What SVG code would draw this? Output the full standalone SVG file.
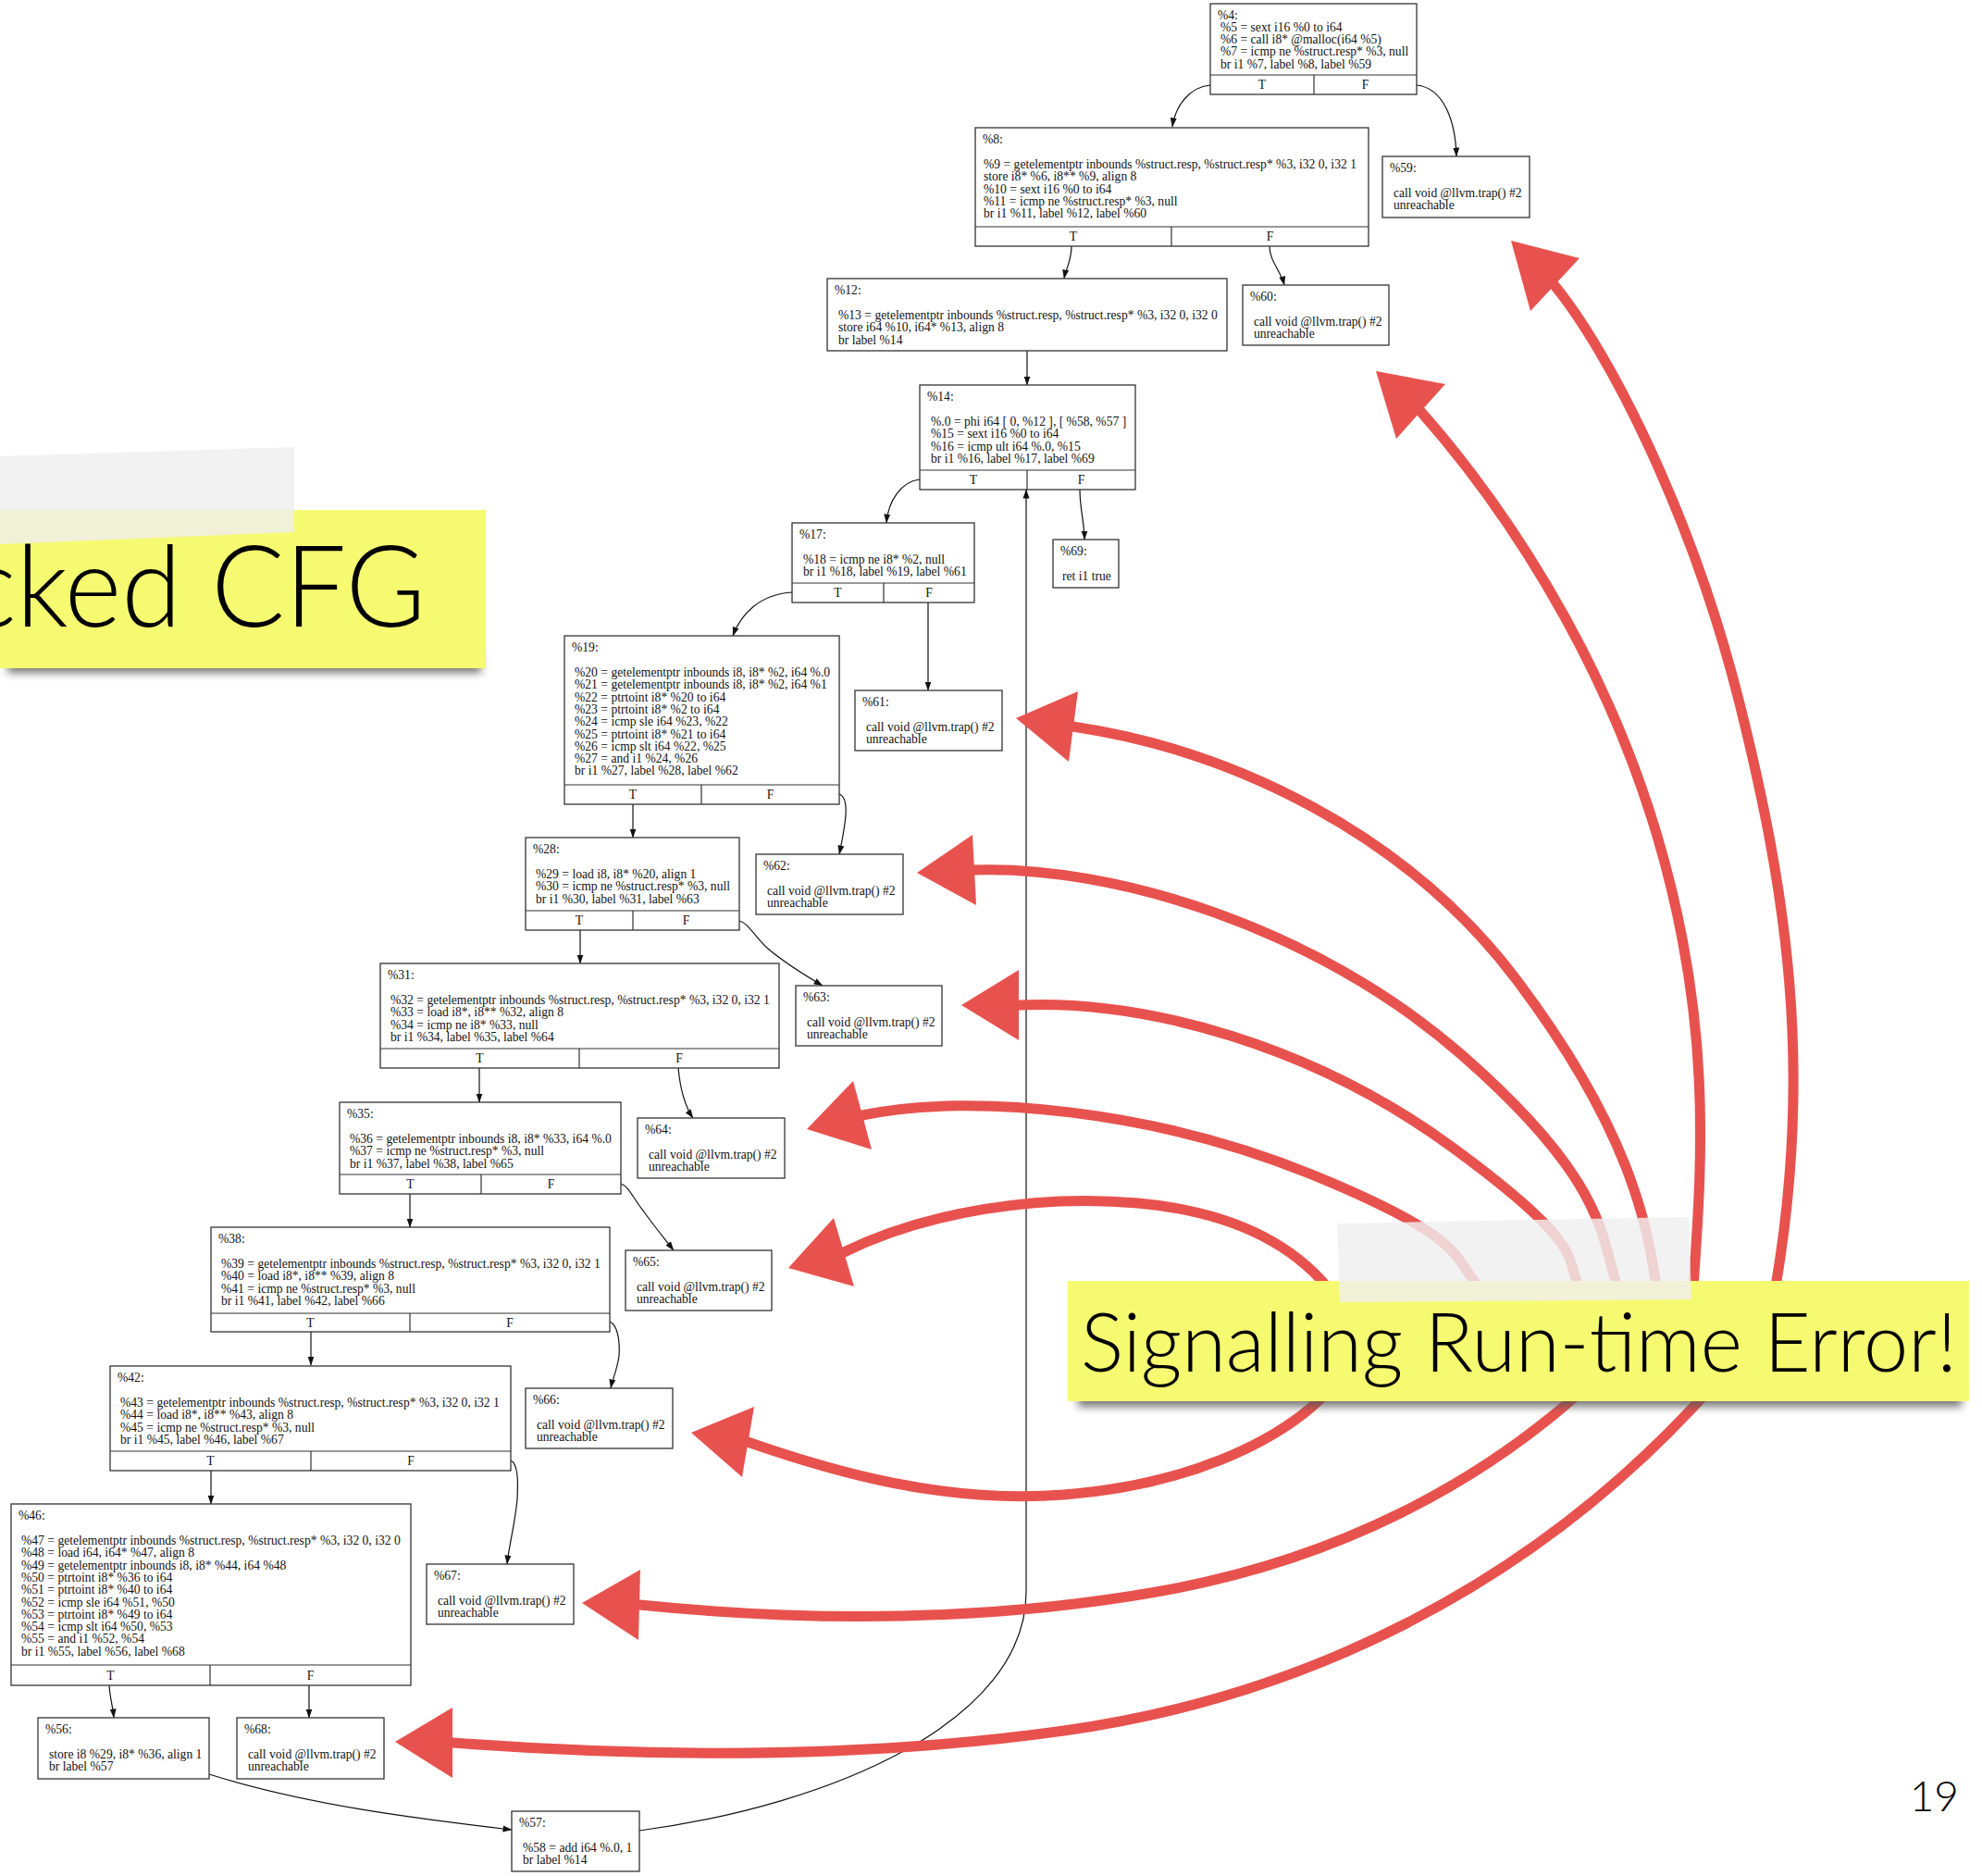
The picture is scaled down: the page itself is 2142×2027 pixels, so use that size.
<svg xmlns="http://www.w3.org/2000/svg" width="2142" height="2027" viewBox="0 0 2142 2027">
<style>
.b{fill:#fff;stroke:#333;stroke-width:1.3}
.l{stroke:#333;stroke-width:1.2;fill:none}
.t{font-family:"Liberation Serif","Times New Roman",serif;font-size:13.6px;fill:#111}
.c{text-anchor:middle}
.e{stroke:#111;stroke-width:1.2;fill:none;marker-end:url(#ah)}
.ra{stroke:#e8524e;stroke-width:11;fill:none;stroke-linecap:round;stroke-linejoin:round}
.rh{fill:#e8524e}
.big{font-family:"Lato","Open Sans",sans-serif;font-weight:300;fill:#000}
.yel{fill:#f6fa70}
.tape{fill:#efefef;fill-opacity:0.82}
</style>
<defs>
<marker id="ah" markerWidth="10" markerHeight="8" refX="9.5" refY="4" orient="auto" markerUnits="userSpaceOnUse">
<path d="M0,0.5 L10,4 L0,7.5 z" fill="#111"/>
</marker>
<filter id="sh" x="-10%" y="-50%" width="120%" height="200%"><feGaussianBlur stdDeviation="5"/></filter>
</defs>
<rect width="2142" height="2027" fill="#fff"/>

<g id="edges">
<path class="e" d="M1308,92 C1285,94 1270,115 1267,137"/>
<path class="e" d="M1531,92 C1560,95 1573,130 1574,169"/>
<path class="e" d="M1158,266 C1158,282 1152,290 1150,301"/>
<path class="e" d="M1372,266 C1372,282 1384,292 1388,308"/>
<path class="e" d="M1110,379 L1110,416"/>
<path class="e" d="M994,518 C975,520 960,540 958,565"/>
<path class="e" d="M1167,529 C1167,550 1172,565 1172,583"/>
<path class="e" d="M856,640 C820,642 800,665 792,687"/>
<path class="e" d="M1003,651 L1003,746"/>
<path class="e" d="M684,869 L684,905"/>
<path class="e" d="M907,858 C918,862 915,885 907,923"/>
<path class="e" d="M627,1005 L627,1041"/>
<path class="e" d="M799,995 C810,998 815,1012 830,1025 C850,1042 872,1055 889,1065"/>
<path class="e" d="M518,1154 L518,1191"/>
<path class="e" d="M733,1154 C735,1175 740,1195 749,1208"/>
<path class="e" d="M443,1290 L443,1326"/>
<path class="e" d="M671,1279 C680,1282 685,1296 695,1308 C707,1325 718,1338 728,1351"/>
<path class="e" d="M336,1439 L336,1475"/>
<path class="e" d="M659,1428 C668,1432 670,1450 669,1465 C667,1480 662,1490 660,1500"/>
<path class="e" d="M228,1589 L228,1625"/>
<path class="e" d="M552,1578 C560,1582 560,1600 559,1620 C556,1650 550,1670 548,1690"/>
<path class="e" d="M118,1821 C119,1835 122,1845 123,1856"/>
<path class="e" d="M334,1821 L334,1856"/>
<path class="e" d="M226,1917 C330,1950 450,1965 553,1977"/>
<path class="e" d="M691,1978 C900,1950 1109,1860 1109,1720 L1109,529"/>
</g>

<g id="n4">
<rect class="b" x="1308" y="4" width="223" height="98"/>
<path class="l" d="M1308,81 H1531 M1420,81 V102"/>
<text class="t"><tspan x="1316" y="20.5">%4:</tspan><tspan x="1319" y="33.8">%5 = sext i16 %0 to i64</tspan><tspan x="1319" y="47.1">%6 = call i8* @malloc(i64 %5)</tspan><tspan x="1319" y="60.4">%7 = icmp ne %struct.resp* %3, null</tspan><tspan x="1319" y="73.7">br i1 %7, label %8, label %59</tspan></text>
<text class="t c"><tspan x="1364" y="96">T</tspan><tspan x="1475.5" y="96">F</tspan></text>
</g>

<g id="n8">
<rect class="b" x="1054" y="138" width="425" height="128"/>
<path class="l" d="M1054,245 H1479 M1266,245 V266"/>
<text class="t"><tspan x="1062" y="154.5">%8:</tspan><tspan x="1063" y="182">%9 = getelementptr inbounds %struct.resp, %struct.resp* %3, i32 0, i32 1</tspan><tspan x="1063" y="195.3">store i8* %6, i8** %9, align 8</tspan><tspan x="1063" y="208.6">%10 = sext i16 %0 to i64</tspan><tspan x="1063" y="221.9">%11 = icmp ne %struct.resp* %3, null</tspan><tspan x="1063" y="235.2">br i1 %11, label %12, label %60</tspan></text>
<text class="t c"><tspan x="1160" y="260">T</tspan><tspan x="1372.5" y="260">F</tspan></text>
</g>

<g id="n59">
<rect class="b" x="1494" y="169" width="159" height="66"/>
<text class="t"><tspan x="1502" y="185.5">%59:</tspan><tspan x="1506" y="213">call void @llvm.trap() #2</tspan><tspan x="1506" y="226.3">unreachable</tspan></text>
</g>

<g id="n12">
<rect class="b" x="894" y="301" width="432" height="78"/>
<text class="t"><tspan x="902" y="317.5">%12:</tspan><tspan x="906" y="345">%13 = getelementptr inbounds %struct.resp, %struct.resp* %3, i32 0, i32 0</tspan><tspan x="906" y="358.3">store i64 %10, i64* %13, align 8</tspan><tspan x="906" y="371.6">br label %14</tspan></text>
</g>

<g id="n60">
<rect class="b" x="1343" y="308" width="158" height="65"/>
<text class="t"><tspan x="1351" y="324.5">%60:</tspan><tspan x="1355" y="352">call void @llvm.trap() #2</tspan><tspan x="1355" y="365.3">unreachable</tspan></text>
</g>

<g id="n14">
<rect class="b" x="994" y="416" width="233" height="113"/>
<path class="l" d="M994,508 H1227 M1110,508 V529"/>
<text class="t"><tspan x="1002" y="432.5">%14:</tspan><tspan x="1006" y="460">%.0 = phi i64 [ 0, %12 ], [ %58, %57 ]</tspan><tspan x="1006" y="473.3">%15 = sext i16 %0 to i64</tspan><tspan x="1006" y="486.6">%16 = icmp ult i64 %.0, %15</tspan><tspan x="1006" y="499.9">br i1 %16, label %17, label %69</tspan></text>
<text class="t c"><tspan x="1052" y="523">T</tspan><tspan x="1168.5" y="523">F</tspan></text>
</g>

<g id="n17">
<rect class="b" x="856" y="565" width="197" height="86"/>
<path class="l" d="M856,630 H1053 M955,630 V651"/>
<text class="t"><tspan x="864" y="581.5">%17:</tspan><tspan x="868" y="609">%18 = icmp ne i8* %2, null</tspan><tspan x="868" y="622.3">br i1 %18, label %19, label %61</tspan></text>
<text class="t c"><tspan x="905.5" y="645">T</tspan><tspan x="1004" y="645">F</tspan></text>
</g>

<g id="n69">
<rect class="b" x="1138" y="583" width="71" height="52"/>
<text class="t"><tspan x="1146" y="599.5">%69:</tspan><tspan x="1148" y="627">ret i1 true</tspan></text>
</g>

<g id="n19">
<rect class="b" x="610" y="687" width="297" height="182"/>
<path class="l" d="M610,848 H907 M758,848 V869"/>
<text class="t"><tspan x="618" y="703.5">%19:</tspan><tspan x="621" y="731">%20 = getelementptr inbounds i8, i8* %2, i64 %.0</tspan><tspan x="621" y="744.3">%21 = getelementptr inbounds i8, i8* %2, i64 %1</tspan><tspan x="621" y="757.6">%22 = ptrtoint i8* %20 to i64</tspan><tspan x="621" y="770.9">%23 = ptrtoint i8* %2 to i64</tspan><tspan x="621" y="784.2">%24 = icmp sle i64 %23, %22</tspan><tspan x="621" y="797.5">%25 = ptrtoint i8* %21 to i64</tspan><tspan x="621" y="810.8">%26 = icmp slt i64 %22, %25</tspan><tspan x="621" y="824.1">%27 = and i1 %24, %26</tspan><tspan x="621" y="837.4">br i1 %27, label %28, label %62</tspan></text>
<text class="t c"><tspan x="684" y="863">T</tspan><tspan x="832.5" y="863">F</tspan></text>
</g>

<g id="n61">
<rect class="b" x="924" y="746" width="159" height="65"/>
<text class="t"><tspan x="932" y="762.5">%61:</tspan><tspan x="936" y="790">call void @llvm.trap() #2</tspan><tspan x="936" y="803.3">unreachable</tspan></text>
</g>

<g id="n28">
<rect class="b" x="568" y="905" width="231" height="100"/>
<path class="l" d="M568,984 H799 M684,984 V1005"/>
<text class="t"><tspan x="576" y="921.5">%28:</tspan><tspan x="579" y="949">%29 = load i8, i8* %20, align 1</tspan><tspan x="579" y="962.3">%30 = icmp ne %struct.resp* %3, null</tspan><tspan x="579" y="975.6">br i1 %30, label %31, label %63</tspan></text>
<text class="t c"><tspan x="626" y="999">T</tspan><tspan x="741.5" y="999">F</tspan></text>
</g>

<g id="n62">
<rect class="b" x="817" y="923" width="159" height="65"/>
<text class="t"><tspan x="825" y="939.5">%62:</tspan><tspan x="829" y="967">call void @llvm.trap() #2</tspan><tspan x="829" y="980.3">unreachable</tspan></text>
</g>

<g id="n63">
<rect class="b" x="860" y="1065" width="158" height="65"/>
<text class="t"><tspan x="868" y="1081.5">%63:</tspan><tspan x="872" y="1109">call void @llvm.trap() #2</tspan><tspan x="872" y="1122.3">unreachable</tspan></text>
</g>

<g id="n31">
<rect class="b" x="411" y="1041" width="431" height="113"/>
<path class="l" d="M411,1133 H842 M626,1133 V1154"/>
<text class="t"><tspan x="419" y="1057.5">%31:</tspan><tspan x="422" y="1085">%32 = getelementptr inbounds %struct.resp, %struct.resp* %3, i32 0, i32 1</tspan><tspan x="422" y="1098.3">%33 = load i8*, i8** %32, align 8</tspan><tspan x="422" y="1111.6">%34 = icmp ne i8* %33, null</tspan><tspan x="422" y="1124.9">br i1 %34, label %35, label %64</tspan></text>
<text class="t c"><tspan x="518.5" y="1148">T</tspan><tspan x="734" y="1148">F</tspan></text>
</g>

<g id="n64">
<rect class="b" x="689" y="1208" width="159" height="65"/>
<text class="t"><tspan x="697" y="1224.5">%64:</tspan><tspan x="701" y="1252">call void @llvm.trap() #2</tspan><tspan x="701" y="1265.3">unreachable</tspan></text>
</g>

<g id="n35">
<rect class="b" x="367" y="1191" width="304" height="99"/>
<path class="l" d="M367,1269 H671 M520,1269 V1290"/>
<text class="t"><tspan x="375" y="1207.5">%35:</tspan><tspan x="378" y="1235">%36 = getelementptr inbounds i8, i8* %33, i64 %.0</tspan><tspan x="378" y="1248.3">%37 = icmp ne %struct.resp* %3, null</tspan><tspan x="378" y="1261.6">br i1 %37, label %38, label %65</tspan></text>
<text class="t c"><tspan x="443.5" y="1284">T</tspan><tspan x="595.5" y="1284">F</tspan></text>
</g>

<g id="n65">
<rect class="b" x="676" y="1351" width="158" height="65"/>
<text class="t"><tspan x="684" y="1367.5">%65:</tspan><tspan x="688" y="1395">call void @llvm.trap() #2</tspan><tspan x="688" y="1408.3">unreachable</tspan></text>
</g>

<g id="n38">
<rect class="b" x="228" y="1326" width="431" height="113"/>
<path class="l" d="M228,1419 H659 M443,1419 V1439"/>
<text class="t"><tspan x="236" y="1342.5">%38:</tspan><tspan x="239" y="1370">%39 = getelementptr inbounds %struct.resp, %struct.resp* %3, i32 0, i32 1</tspan><tspan x="239" y="1383.3">%40 = load i8*, i8** %39, align 8</tspan><tspan x="239" y="1396.6">%41 = icmp ne %struct.resp* %3, null</tspan><tspan x="239" y="1409.9">br i1 %41, label %42, label %66</tspan></text>
<text class="t c"><tspan x="335.5" y="1434">T</tspan><tspan x="551" y="1434">F</tspan></text>
</g>

<g id="n66">
<rect class="b" x="568" y="1500" width="159" height="65"/>
<text class="t"><tspan x="576" y="1516.5">%66:</tspan><tspan x="580" y="1544">call void @llvm.trap() #2</tspan><tspan x="580" y="1557.3">unreachable</tspan></text>
</g>

<g id="n42">
<rect class="b" x="119" y="1476" width="433" height="113"/>
<path class="l" d="M119,1568 H552 M336,1568 V1589"/>
<text class="t"><tspan x="127" y="1492.5">%42:</tspan><tspan x="130" y="1520">%43 = getelementptr inbounds %struct.resp, %struct.resp* %3, i32 0, i32 1</tspan><tspan x="130" y="1533.3">%44 = load i8*, i8** %43, align 8</tspan><tspan x="130" y="1546.6">%45 = icmp ne %struct.resp* %3, null</tspan><tspan x="130" y="1559.9">br i1 %45, label %46, label %67</tspan></text>
<text class="t c"><tspan x="227.5" y="1583">T</tspan><tspan x="444" y="1583">F</tspan></text>
</g>

<g id="n67">
<rect class="b" x="461" y="1690" width="159" height="65"/>
<text class="t"><tspan x="469" y="1706.5">%67:</tspan><tspan x="473" y="1734">call void @llvm.trap() #2</tspan><tspan x="473" y="1747.3">unreachable</tspan></text>
</g>

<g id="n46">
<rect class="b" x="12" y="1625" width="432" height="196"/>
<path class="l" d="M12,1799 H444 M227,1799 V1821"/>
<text class="t"><tspan x="20" y="1641.5">%46:</tspan><tspan x="23" y="1669">%47 = getelementptr inbounds %struct.resp, %struct.resp* %3, i32 0, i32 0</tspan><tspan x="23" y="1682.3">%48 = load i64, i64* %47, align 8</tspan><tspan x="23" y="1695.6">%49 = getelementptr inbounds i8, i8* %44, i64 %48</tspan><tspan x="23" y="1708.9">%50 = ptrtoint i8* %36 to i64</tspan><tspan x="23" y="1722.2">%51 = ptrtoint i8* %40 to i64</tspan><tspan x="23" y="1735.5">%52 = icmp sle i64 %51, %50</tspan><tspan x="23" y="1748.8">%53 = ptrtoint i8* %49 to i64</tspan><tspan x="23" y="1762.1">%54 = icmp slt i64 %50, %53</tspan><tspan x="23" y="1775.4">%55 = and i1 %52, %54</tspan><tspan x="23" y="1788.7">br i1 %55, label %56, label %68</tspan></text>
<text class="t c"><tspan x="119.5" y="1815">T</tspan><tspan x="335.5" y="1815">F</tspan></text>
</g>

<g id="n56">
<rect class="b" x="41" y="1856" width="185" height="66"/>
<text class="t"><tspan x="49" y="1872.5">%56:</tspan><tspan x="53" y="1900">store i8 %29, i8* %36, align 1</tspan><tspan x="53" y="1913.3">br label %57</tspan></text>
</g>

<g id="n68">
<rect class="b" x="256" y="1856" width="159" height="66"/>
<text class="t"><tspan x="264" y="1872.5">%68:</tspan><tspan x="268" y="1900">call void @llvm.trap() #2</tspan><tspan x="268" y="1913.3">unreachable</tspan></text>
</g>

<g id="n57">
<rect class="b" x="553" y="1957" width="138" height="65"/>
<text class="t"><tspan x="561" y="1973.5">%57:</tspan><tspan x="565" y="2001">%58 = add i64 %.0, 1</tspan><tspan x="565" y="2014.3">br label %14</tspan></text>
</g>

<g id="title-note">
<rect x="8" y="705" width="512" height="22" fill="#555" filter="url(#sh)" opacity="0.8"/>
<rect class="yel" x="0" y="551" width="525" height="171"/>
<polygon class="tape" points="0,493 318,483 318,575 0,588"/>
<text class="big" x="-38" y="677" font-size="122" textLength="498" lengthAdjust="spacingAndGlyphs">cked CFG</text>
</g>

<g id="red-arrows">
<path class="ra" d="M1678,306 C1740,380 1830,560 1880,760 S1960,1150 1919,1390"/>
<polygon class="rh" points="1633,260 1654,336 1707,279"/>
<path class="ra" d="M1534,443 C1620,540 1730,700 1790,900 S1840,1250 1830,1390"/>
<polygon class="rh" points="1487,401 1509,474 1562,415"/>
<path class="ra" d="M1159,785 C1330,810 1520,900 1640,1060 S1780,1320 1790,1390"/>
<polygon class="rh" points="1098,776 1155,823 1165,747"/>
<path class="ra" d="M1053,940 C1200,935 1420,1000 1580,1140 S1730,1340 1748,1390"/>
<polygon class="rh" points="991,943 1055,978 1051,902"/>
<path class="ra" d="M1101,1086 C1240,1080 1420,1130 1570,1240 S1690,1360 1707,1390"/>
<polygon class="rh" points="1039,1086 1101,1124 1101,1048"/>
<path class="ra" d="M932,1205 C1050,1180 1250,1200 1420,1270 S1570,1360 1598,1390"/>
<polygon class="rh" points="872,1220 942,1242 922,1168"/>
<path class="ra" d="M912,1353 C1000,1310 1120,1290 1230,1300 S1400,1350 1434,1390"/>
<polygon class="rh" points="852,1370 923,1390 901,1316"/>
<path class="ra" d="M808,1558 C900,1590 1020,1625 1150,1615 S1380,1560 1434,1505"/>
<polygon class="rh" points="747,1548 802,1596 815,1520"/>
<path class="ra" d="M691,1734 C850,1750 1050,1755 1250,1720 S1600,1600 1707,1505"/>
<polygon class="rh" points="629,1732 690,1772 692,1696"/>
<path class="ra" d="M489,1883 C650,1895 900,1905 1150,1870 S1650,1720 1844,1505"/>
<polygon class="rh" points="427,1882 489,1921 489,1845"/>
</g>

<g id="error-note">
<rect x="1165" y="1498" width="955" height="22" fill="#555" filter="url(#sh)" opacity="0.8"/>
<rect class="yel" x="1154" y="1384" width="974" height="130"/>
<polygon class="tape" points="1445,1322 1825,1315 1828,1404 1448,1407"/>
<text class="big" x="1168" y="1482" font-size="88" textLength="947" lengthAdjust="spacingAndGlyphs">Signalling Run-time Error!</text>
</g>

<text class="big" x="2117" y="1957" font-size="46" text-anchor="end">19</text>
</svg>
